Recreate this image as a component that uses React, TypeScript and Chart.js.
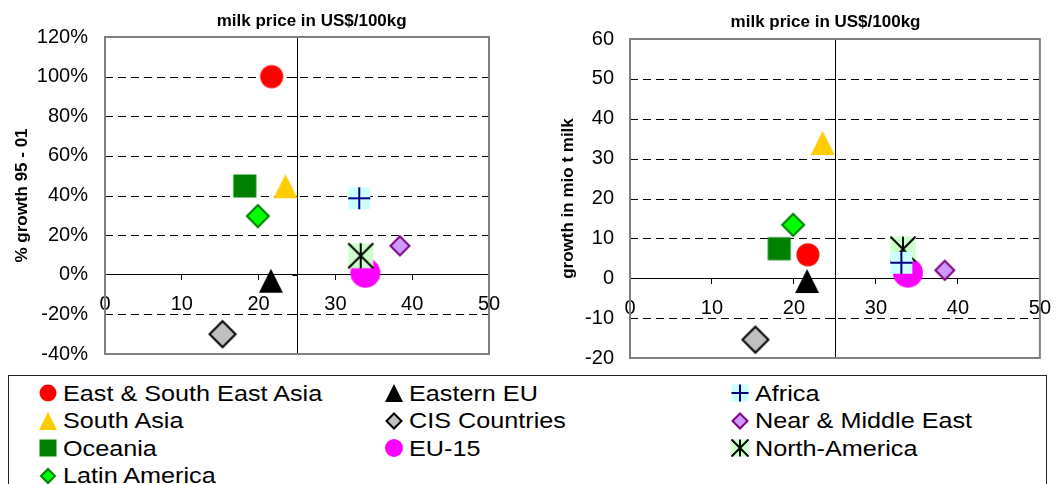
import React, { useEffect, useRef } from 'react';
import { Chart, registerables } from 'chart.js';

Chart.register(...registerables);

const FONT = '"Liberation Sans", Arial, Helvetica, sans-serif';

// Regions, listed row by row as in the legend
const regions = [
  'East & South East Asia', 'Eastern EU', 'Africa',
  'South Asia', 'CIS Countries', 'Near & Middle East',
  'Oceania', 'EU-15', 'North-America',
  'Latin America',
];

// Milk price, US$/100kg
const milkPrice = [21.7, 21.6, 33.1, 23.5, 15.3, 38.4, 18.2, 33.9, 33.3, 19.9];
// Growth of milk production 1995-2001, %
const growthPercent = [100, -3, 38.6, 44.7, -30, 14.6, 44.8, 1.0, 9.6, 29.6];
// Growth of milk production 1995-2001, mio t milk
const growthMioT = [5.9, -0.7, 3.9, 33.9, -15.4, 2.0, 7.4, 1.4, 7.3, 13.4];

// Tick labels
const priceTicks = [0, 10, 20, 30, 40, 50];
const percentTicks = [-40, -20, 0, 20, 40, 60, 80, 100, 120];
const mioTTicks = [-20, -10, 0, 10, 20, 30, 40, 50, 60];

// Price level at which the vertical axis crosses
const crossPrice = 25;

type Shape = 'circle' | 'triangle' | 'square' | 'diamond' | 'plus' | 'asterisk';
type MarkerStyle = {
  shape: Shape;
  size: number;
  legendSize: number;
  fill: string;
  stroke?: string;
  lineWidth?: number;
  layer: number;
};

// Marker per region (same order as `regions`); lower layer is drawn on top
const markers: MarkerStyle[] = [
  { shape: 'circle', size: 23, legendSize: 17, fill: '#FF0000', layer: 3 },
  { shape: 'triangle', size: 24, legendSize: 18, fill: '#000000', layer: 3 },
  { shape: 'plus', size: 22, legendSize: 17, fill: '#CCFFFF', stroke: '#000080', lineWidth: 2, layer: 0 },
  { shape: 'triangle', size: 24, legendSize: 18, fill: '#FFCC00', layer: 3 },
  { shape: 'diamond', size: 29, legendSize: 18, fill: '#C0C0C0', stroke: '#000000', lineWidth: 2, layer: 3 },
  { shape: 'diamond', size: 22, legendSize: 18, fill: '#CC99FF', stroke: '#800080', lineWidth: 2, layer: 3 },
  { shape: 'square', size: 23, legendSize: 17, fill: '#008000', layer: 3 },
  { shape: 'circle', size: 30, legendSize: 18, fill: '#FF00FF', layer: 2 },
  { shape: 'asterisk', size: 25, legendSize: 17, fill: '#CCFFCC', stroke: '#000000', lineWidth: 2, layer: 1 },
  { shape: 'diamond', size: 25, legendSize: 17, fill: '#00FF00', stroke: '#008000', lineWidth: 2, layer: 3 },
];

function paintMarker(ctx: CanvasRenderingContext2D, m: MarkerStyle, cx: number, cy: number, size: number) {
  const h = size / 2;
  const lw = m.lineWidth ?? 2;
  ctx.save();
  ctx.fillStyle = m.fill;
  ctx.strokeStyle = m.stroke ?? m.fill;
  ctx.lineWidth = lw;
  ctx.lineJoin = 'miter';
  ctx.beginPath();
  switch (m.shape) {
    case 'circle':
      ctx.arc(cx, cy, h, 0, Math.PI * 2);
      ctx.fill();
      break;
    case 'triangle':
      ctx.moveTo(cx, cy - h);
      ctx.lineTo(cx + h, cy + h);
      ctx.lineTo(cx - h, cy + h);
      ctx.closePath();
      ctx.fill();
      break;
    case 'square':
      ctx.fillRect(cx - h, cy - h, size, size);
      break;
    case 'diamond': {
      const r = h - lw * 0.75;
      ctx.moveTo(cx, cy - r);
      ctx.lineTo(cx + r, cy);
      ctx.lineTo(cx, cy + r);
      ctx.lineTo(cx - r, cy);
      ctx.closePath();
      ctx.fill();
      ctx.stroke();
      break;
    }
    case 'plus':
      ctx.fillRect(cx - h, cy - h, size, size);
      ctx.moveTo(cx, cy - h);
      ctx.lineTo(cx, cy + h);
      ctx.moveTo(cx - h, cy);
      ctx.lineTo(cx + h, cy);
      ctx.stroke();
      break;
    case 'asterisk':
      ctx.fillRect(cx - h, cy - h, size, size);
      ctx.moveTo(cx - h, cy - h);
      ctx.lineTo(cx + h, cy + h);
      ctx.moveTo(cx + h, cy - h);
      ctx.lineTo(cx - h, cy + h);
      ctx.moveTo(cx, cy - h);
      ctx.lineTo(cx, cy + h);
      ctx.stroke();
      break;
  }
  ctx.restore();
}

function makeMarkerImage(m: MarkerStyle, size: number): HTMLCanvasElement {
  const s = Math.ceil(size / 2) * 2 + 4;
  const c = document.createElement('canvas');
  c.width = s;
  c.height = s;
  paintMarker(c.getContext('2d')!, m, s / 2, s / 2, size);
  return c;
}

// Frame, dashed gridlines, crossing vertical axis and the top axis title
const quadrantFrame = {
  id: 'quadrantFrame',
  beforeDatasetsDraw(chart: any, _args: unknown, opts: any) {
    const { ctx, chartArea: a, scales } = chart;
    const x = scales.x;
    const y = scales.y;
    ctx.save();
    ctx.strokeStyle = '#000';
    ctx.lineWidth = 1;
    ctx.setLineDash([8, 5]);
    for (const t of y.ticks) {
      if (t.value === y.min || t.value === y.max || t.value === 0) continue;
      const py = Math.round(y.getPixelForValue(t.value)) + 0.5;
      ctx.beginPath();
      ctx.moveTo(a.left, py);
      ctx.lineTo(a.right, py);
      ctx.stroke();
    }
    ctx.setLineDash([]);
    const px = Math.round(x.getPixelForValue(opts.crossAt)) + 0.5;
    ctx.beginPath();
    ctx.moveTo(px, a.top);
    ctx.lineTo(px, a.bottom);
    for (const t of y.ticks) {
      const py = Math.round(y.getPixelForValue(t.value)) + 0.5;
      ctx.moveTo(px - 5, py);
      ctx.lineTo(px, py);
    }
    ctx.stroke();
    ctx.strokeStyle = '#808080';
    ctx.lineWidth = 2;
    ctx.strokeRect(a.left, a.top, a.right - a.left, a.bottom - a.top);
    ctx.restore();
  },
  afterDraw(chart: any, _args: unknown, opts: any) {
    const { ctx, chartArea: a } = chart;
    ctx.save();
    ctx.font = `bold 17px ${FONT}`;
    ctx.fillStyle = '#000';
    ctx.textAlign = 'center';
    ctx.textBaseline = 'middle';
    ctx.fillText(opts.title, (a.left + a.right) / 2 + opts.titleShift, opts.titleY);
    ctx.restore();
  },
};

type Area = { left: number; right: number; top: number; bottom: number };
type PanelProps = {
  values: number[];
  yTicks: number[];
  suffix: string;
  yTitle: string;
  x: number;
  width: number;
  area: Area;
  yTitlePad: number;
  yLabelPad: number;
  titleShift: number;
  titleY: number;
};

// room kept below the plot for the centred x axis labels
const BOTTOM_ROOM = 30;

function Panel(p: PanelProps) {
  const ref = useRef<HTMLCanvasElement>(null);
  const height = p.area.bottom + BOTTOM_ROOM;
  useEffect(() => {
    const datasets = regions.map((name, i) => ({
      label: name,
      data: [{ x: milkPrice[i], y: p.values[i] }],
      pointStyle: makeMarkerImage(markers[i], markers[i].size),
      pointRadius: markers[i].size / 2,
      order: markers[i].layer,
      clip: false as const,
    }));
    const chart = new Chart(ref.current!, {
      type: 'scatter',
      data: { datasets },
      plugins: [quadrantFrame],
      options: {
        responsive: false,
        animation: false,
        events: [],
        layout: {
          autoPadding: false,
          padding: { left: 0, top: p.area.top, right: p.width - p.area.right, bottom: BOTTOM_ROOM },
        },
        plugins: {
          legend: { display: false },
          tooltip: { enabled: false },
          quadrantFrame: {
            crossAt: crossPrice,
            title: 'milk price in US$/100kg',
            titleShift: p.titleShift,
            titleY: p.titleY,
          },
        } as any,
        scales: {
          x: {
            type: 'linear',
            position: { y: 0 } as any,
            min: priceTicks[0],
            max: priceTicks[priceTicks.length - 1],
            afterBuildTicks: (s: any) => {
              s.ticks = priceTicks.map((v) => ({ value: v }));
            },
            grid: { display: true, drawOnChartArea: false, drawTicks: true, tickLength: 5, color: '#000', lineWidth: 1 },
            border: { display: true, color: '#000', width: 1 },
            ticks: { font: { size: 20, family: FONT }, color: '#000', padding: 13, maxRotation: 0, autoSkip: false },
          },
          y: {
            type: 'linear',
            position: 'left',
            min: p.yTicks[0],
            max: p.yTicks[p.yTicks.length - 1],
            afterBuildTicks: (s: any) => {
              s.ticks = p.yTicks.map((v) => ({ value: v }));
            },
            afterFit: (s: any) => {
              s.width = p.area.left;
            },
            grid: { display: false, drawTicks: false },
            border: { display: false },
            ticks: {
              font: { size: 20, family: FONT },
              color: '#000',
              padding: p.yLabelPad,
              autoSkip: false,
              callback: (v: any) => `${v}${p.suffix}`,
            },
            title: {
              display: true,
              text: p.yTitle,
              color: '#000',
              font: { size: 17, weight: 'bold', family: FONT },
              padding: { top: p.yTitlePad, bottom: 0 },
            },
          },
        },
      },
    });
    return () => chart.destroy();
  }, []);
  return (
    <canvas
      ref={ref}
      width={p.width}
      height={height}
      style={{ position: 'absolute', left: p.x, top: 0, width: p.width, height }}
    />
  );
}

function LegendMarker({ m, left, top }: { m: MarkerStyle; left: number; top: number }) {
  const ref = useRef<HTMLCanvasElement>(null);
  useEffect(() => {
    const c = ref.current!;
    const ctx = c.getContext('2d')!;
    ctx.clearRect(0, 0, c.width, c.height);
    paintMarker(ctx, m, c.width / 2, c.height / 2, m.legendSize);
  }, [m]);
  return <canvas ref={ref} width={24} height={24} style={{ position: 'absolute', left: left - 12, top: top - 12 }} />;
}

// Legend box and grid (page pixels)
const legendBox = { left: 8, top: 375, width: 1039, height: 140 };
const legendCols = [
  { marker: 47.7, text: 62.7 },
  { marker: 394, text: 409.3 },
  { marker: 740, text: 755 },
];
const legendFirstRow = 393.3;
const legendRowStep = 27.5;

function Legend() {
  const inner = { left: legendBox.left + 1, top: legendBox.top + 1 };
  return (
    <div
      style={{
        position: 'absolute',
        left: legendBox.left,
        top: legendBox.top,
        width: legendBox.width,
        height: legendBox.height,
        boxSizing: 'border-box',
        border: '1px solid #222',
        background: '#fff',
      }}
    >
      {regions.map((name, i) => {
        const col = legendCols[i % 3];
        const cy = legendFirstRow + Math.floor(i / 3) * legendRowStep - inner.top;
        return (
          <React.Fragment key={name}>
            <LegendMarker m={markers[i]} left={col.marker - inner.left} top={cy} />
            <span
              style={{
                position: 'absolute',
                left: col.text - inner.left,
                top: cy - 13.5,
                fontFamily: FONT,
                fontSize: 22.5,
                lineHeight: '27.5px',
                whiteSpace: 'nowrap',
                color: '#000',
                transform: 'scaleX(1.12)',
                transformOrigin: '0 50%',
              }}
            >
              {name}
            </span>
          </React.Fragment>
        );
      })}
    </div>
  );
}

export default function App() {
  return (
    <div
      style={{
        position: 'absolute',
        left: 0,
        top: 0,
        width: 1064,
        height: 484,
        overflow: 'hidden',
        background: '#fff',
      }}
    >
      <Panel
        values={growthPercent}
        yTicks={percentTicks}
        suffix="%"
        yTitle="% growth 95 - 01"
        x={0}
        width={530}
        area={{ left: 105, right: 489, top: 37, bottom: 354 }}
        yTitlePad={12}
        yLabelPad={17}
        titleShift={14.7}
        titleY={21}
      />
      <Panel
        values={growthMioT}
        yTicks={mioTTicks}
        suffix=""
        yTitle="growth in mio t milk"
        x={530}
        width={534}
        area={{ left: 100, right: 522, top: 39, bottom: 358 }}
        yTitlePad={28}
        yLabelPad={16}
        titleShift={-9.4}
        titleY={22}
      />
      <Legend />
    </div>
  );
}
